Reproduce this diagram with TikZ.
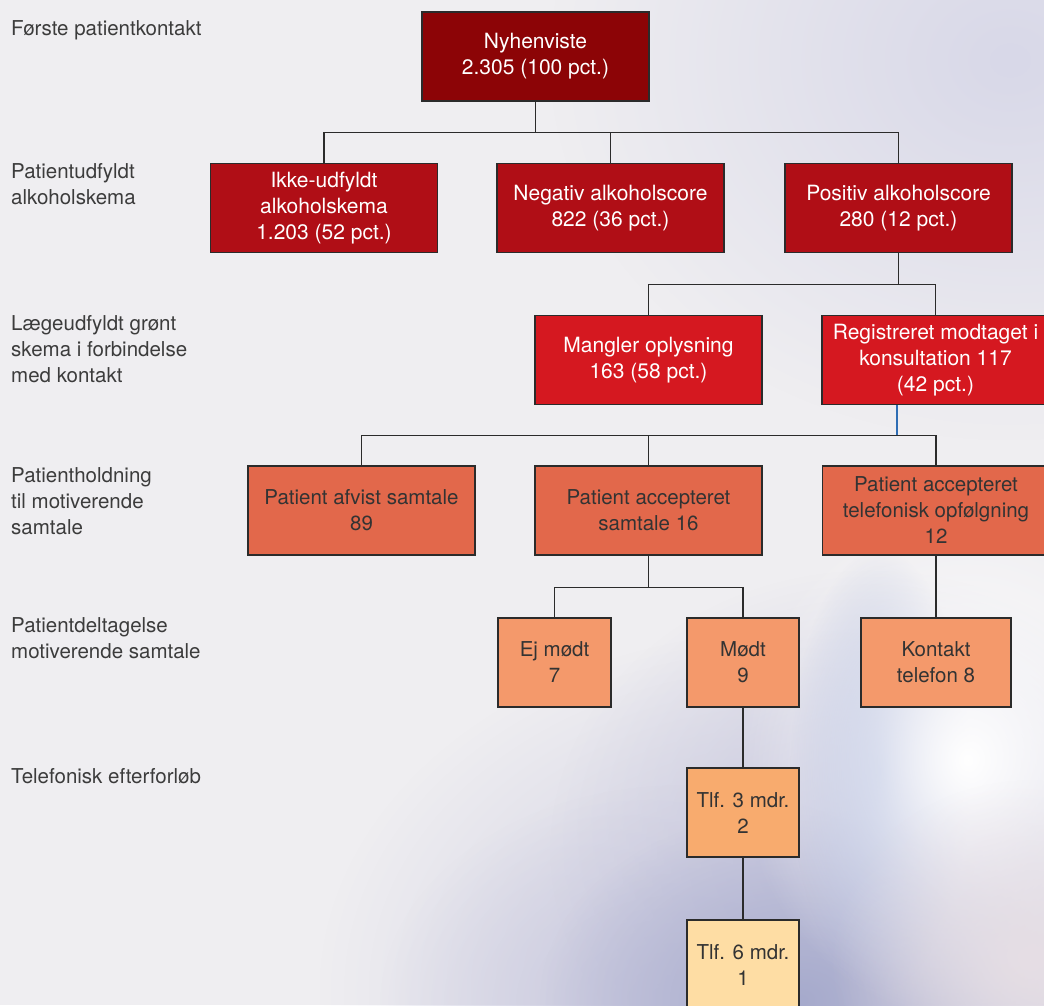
\documentclass[tikz,border=0pt]{standalone}
\usepackage{fontspec}
\setmainfont{TeX Gyre Heros}
\usetikzlibrary{fadings}
\definecolor{bg}{HTML}{EFEEF1}
\definecolor{cA}{HTML}{8C0406}
\definecolor{cB}{HTML}{B00E16}
\definecolor{cC}{HTML}{D51820}
\definecolor{cD}{HTML}{E2684B}
\definecolor{cE}{HTML}{F4996B}
\definecolor{cF}{HTML}{F8AB6E}
\definecolor{cG}{HTML}{FEDDA4}
\definecolor{linec}{HTML}{2B2B2B}
\definecolor{labc}{HTML}{3C3C3C}
\definecolor{darkt}{HTML}{333333}
\definecolor{bluel}{HTML}{2E6DB4}
\definecolor{blobA}{HTML}{D8D8E8}
\definecolor{blobL}{HTML}{C8C8DE}
\definecolor{blobB}{HTML}{A6AACC}
\definecolor{blobC}{HTML}{9CA9D4}
\definecolor{blobD}{HTML}{E6DEE4}
\tikzfading[name=softblob, inner color=transparent!0, outer color=transparent!100]
\begin{document}
\begin{tikzpicture}[x=1pt,y=-1pt,
  box/.style={draw=linec, line width=1.3pt, minimum width=227pt, minimum height=89pt,
    inner sep=0pt, align=center, font=\fontsize{21}{26}\selectfont},
  boxw/.style={box, text=white},
  boxd/.style={box, text=darkt, font=\fontsize{20.5}{26}\selectfont},
  lab/.style={anchor=north west, inner sep=0pt, align=left, text=labc,
    font=\fontsize{20.5}{26}\selectfont},
  conn/.style={draw=linec, line width=1.3pt},
  bconn/.style={draw=bluel, line width=1.1pt}]
\useasboundingbox (0,0) rectangle (1044,1005);
\clip (0,0) rectangle (1044,1005);
\fill[bg] (0,0) rectangle (1044,1005);
% soft photographic background
\fill[blobA, path fading=softblob] (1010,60) ellipse (460 and 380);
\fill[blobL, path fading=softblob] (800,990) ellipse (480 and 360);
\fill[blobL, path fading=softblob] (870,850) ellipse (320 and 280);
\fill[blobL, path fading=softblob] (680,1005) ellipse (300 and 220);
\fill[blobB, path fading=softblob] (800,1000) ellipse (260 and 190);
\fill[blobC, path fading=softblob] (880,770) ellipse (90 and 220);
\fill[white, path fading=softblob] (968,760) ellipse (230 and 260);
\fill[blobD, path fading=softblob] (1030,960) ellipse (200 and 180);

% row labels
\node[lab] (l1) at (11,20) {Første patientkontakt};
\node[lab] (l2) at (11,163) {Patientudfyldt\\alkoholskema};
\node[lab] (l3) at (11,315) {Lægeudfyldt grønt\\skema i forbindelse\\med kontakt};
\node[lab] (l4) at (11,467) {Patientholdning\\til motiverende\\samtale};
\node[lab] (l5) at (11,617) {Patientdeltagelse\\motiverende samtale};
\node[lab] (l6) at (11,768) {Telefonisk efterforløb};

% boxes
\node[boxw, fill=cA] (top) at (535.5,56.5) {Nyhenviste\\2.305 (100 pct.)};
\node[boxw, fill=cB] (ikke) at (324,208) {Ikke-udfyldt\\alkoholskema\\1.203 (52 pct.)};
\node[boxw, fill=cB] (neg) at (610.5,208) {Negativ alkoholscore\\822 (36 pct.)};
\node[boxw, fill=cB] (pos) at (898.5,208) {Positiv alkoholscore\\280 (12 pct.)};
\node[boxw, fill=cC] (mang) at (648.5,360) {Mangler oplysning\\163 (58 pct.)};
\node[boxw, fill=cC] (reg) at (935.5,360) {Registreret modtaget i\\konsultation 117\\(42 pct.)};
\node[boxd, fill=cD] (afv) at (361.5,510.5) {Patient afvist samtale\\89};
\node[boxd, fill=cD] (acc) at (648.5,510.5) {Patient accepteret\\samtale 16};
\node[boxd, fill=cD] (tel) at (936,510.5) {Patient accepteret\\telefonisk opfølgning\\12};
\node[boxd, fill=cE, minimum width=113pt] (ej) at (554.5,662.5) {Ej mødt\\7};
\node[boxd, fill=cE, minimum width=112pt] (modt) at (743,662.5) {Mødt\\9};
\node[boxd, fill=cE, minimum width=150pt] (kont) at (936,662.5) {Kontakt\\telefon 8};
\node[boxd, fill=cF, minimum width=112pt] (t3) at (743,812.5) {Tlf. 3 mdr.\\2};
\node[boxd, fill=cG, minimum width=112pt] (t6) at (743,964.5) {Tlf. 6 mdr.\\1};

% connectors
\draw[conn] (top.south) -- ++(0,31) coordinate (b1);
\draw[conn] (ikke.north) |- (b1) -| (pos.north);
\draw[conn] (neg.north) -- (neg.north |- b1);
\draw[conn] (pos.south) -- ++(0,31) coordinate (b2);
\draw[conn] (mang.north) |- (b2) -| (reg.north);
\path ([xshift=-38.5pt]reg.south) ++(0,30) coordinate (b3);
\draw[conn] (afv.north) |- (b3) -| (tel.north);
\draw[conn] (acc.north) -- (acc.north |- b3);
\draw[bconn] ([xshift=-38.5pt]reg.south) -- (b3);
\draw[conn] (acc.south) -- ++(0,32) coordinate (b4);
\draw[conn] (ej.north) |- (b4) -| (modt.north);
\draw[conn] (tel.south) -- (kont.north);
\draw[conn] (modt.south) -- (t3.north);
\draw[conn] (t3.south) -- (t6.north);
\end{tikzpicture}
\end{document}
